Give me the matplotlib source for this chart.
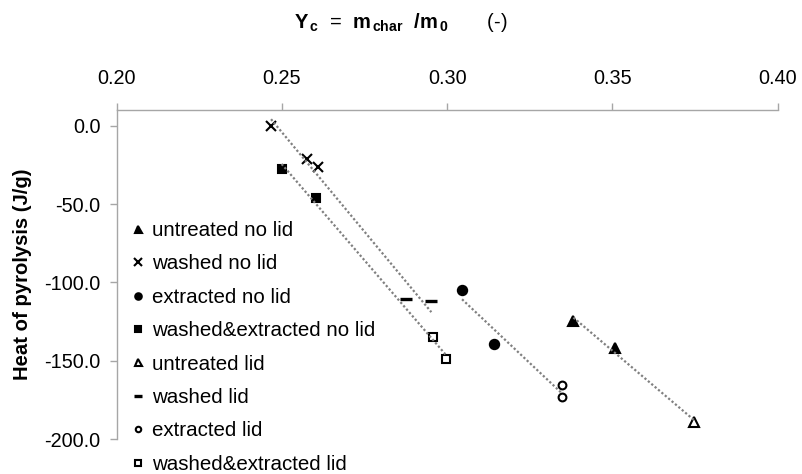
import matplotlib
matplotlib.use("Agg")
import matplotlib.pyplot as plt
import numpy as np
from matplotlib.ticker import FormatStrFormatter, MultipleLocator

plt.rcParams['font.family'] = 'Liberation Sans'
plt.rcParams['axes.unicode_minus'] = False
plt.rcParams['mathtext.fontset'] = 'custom'
plt.rcParams['mathtext.rm'] = 'Liberation Sans'
plt.rcParams['mathtext.bf'] = 'Liberation Sans:bold'
plt.rcParams['mathtext.it'] = 'Liberation Sans:italic'

# char yield Yc (-) and heat of pyrolysis (J/g) per sample series
untreated_nolid_x = [0.3382, 0.3508]
untreated_nolid_y = [-124.7, -141.7]
washed_nolid_x = [0.2467, 0.2577, 0.2610]
washed_nolid_y = [0.0, -21.3, -26.4]
extracted_nolid_x = [0.3045, 0.3142]
extracted_nolid_y = [-104.7, -139.1]
washext_nolid_x = [0.2499, 0.2604]
washext_nolid_y = [-27.9, -46.0]
untreated_lid_x = [0.3747]
untreated_lid_y = [-189.1]
washed_lid_x = [0.2874, 0.2952]
washed_lid_y = [-110.6, -111.7]
extracted_lid_x = [0.3346, 0.3346]
extracted_lid_y = [-165.3, -173.0]
washext_lid_x = [0.2958, 0.2996]
washext_lid_y = [-135.1, -148.9]

fig = plt.figure(figsize=(8.02, 4.74), dpi=100)
ax = fig.add_axes([0.1455, 0.0738, 0.8242, 0.6941])

series = [
    ("untreated no lid", untreated_nolid_x, untreated_nolid_y, '^', 7.2, 'black'),
    ("washed no lid", washed_nolid_x, washed_nolid_y, 'x', 7.7, 'black'),
    ("extracted no lid", extracted_nolid_x, extracted_nolid_y, 'o', 6.7, 'black'),
    ("washed&extracted no lid", washext_nolid_x, washext_nolid_y, 's', 6.3, 'black'),
    ("untreated lid", untreated_lid_x, untreated_lid_y, '^', 7.2, 'white'),
    ("washed lid", washed_lid_x, washed_lid_y, '_', 8.4, 'black'),
    ("extracted lid", extracted_lid_x, extracted_lid_y, 'o', 5.6, 'white'),
    ("washed&extracted lid", washext_lid_x, washext_lid_y, 's', 6.0, 'white'),
]

for label, xs, ys, mk, ms, fc in series:
    mew = 1.5
    if mk == '_':
        mew = 2.4
    ax.plot(xs, ys, linestyle='none', marker=mk, markersize=ms,
            markerfacecolor=fc, markeredgecolor='black', markeredgewidth=mew,
            label=label, zorder=3)

# linear trend per treatment (no lid and lid together)
groups = [
    (untreated_nolid_x + untreated_lid_x, untreated_nolid_y + untreated_lid_y),
    (washed_nolid_x + washed_lid_x, washed_nolid_y + washed_lid_y),
    (extracted_nolid_x + extracted_lid_x, extracted_nolid_y + extracted_lid_y),
    (washext_nolid_x + washext_lid_x, washext_nolid_y + washext_lid_y),
]
for gx, gy in groups:
    gx = np.array(gx)
    gy = np.array(gy)
    k, b = np.polyfit(gx, gy, 1)
    xx = np.linspace(gx.min(), gx.max(), 50)
    ax.plot(xx, k * xx + b, color='#808080', linestyle=(0, (1, 1)),
            linewidth=1.6, zorder=4)

ax.set_xlim(0.20, 0.40)
ax.set_ylim(-200, 10)
ax.xaxis.set_major_locator(MultipleLocator(0.05))
ax.xaxis.set_major_formatter(FormatStrFormatter('%.2f'))
ax.yaxis.set_major_locator(MultipleLocator(50))
ax.yaxis.set_major_formatter(FormatStrFormatter('%.1f'))
ax.xaxis.tick_top()

spine_col = '#a6a6a6'
for side in ['right', 'bottom']:
    ax.spines[side].set_visible(False)
for side in ['left', 'top']:
    ax.spines[side].set_color(spine_col)
    ax.spines[side].set_linewidth(1.0)
ax.tick_params(axis='x', direction='out', length=5, width=1.0,
               color=spine_col, labelsize=14.3, pad=11)
ax.tick_params(axis='y', direction='out', length=5, width=1.0,
               color=spine_col, labelsize=14.3, pad=6.5)

ax.set_ylabel("Heat of pyrolysis (J/g)", fontsize=14.6, fontweight='bold')
ax.yaxis.set_label_coords(-0.128, 0.5)

fig.text(0.5, 0.941,
         r'$\mathbf{Y_{\,c}}$  =  $\mathbf{m_{\,char}}$  $\mathbf{/m_{\,0}}$       (-)',
         ha='center', va='baseline', fontsize=14.5)

ax.legend(loc='upper left', bbox_to_anchor=(132.1 / 802, 1 - 221 / 474),
          bbox_transform=fig.transFigure, frameon=False, fontsize=14.8,
          handlelength=0.6, handletextpad=0.35, labelspacing=0.7,
          borderpad=0, borderaxespad=0, markerscale=0.7, numpoints=1)

fig.savefig('out.png', dpi=100)
